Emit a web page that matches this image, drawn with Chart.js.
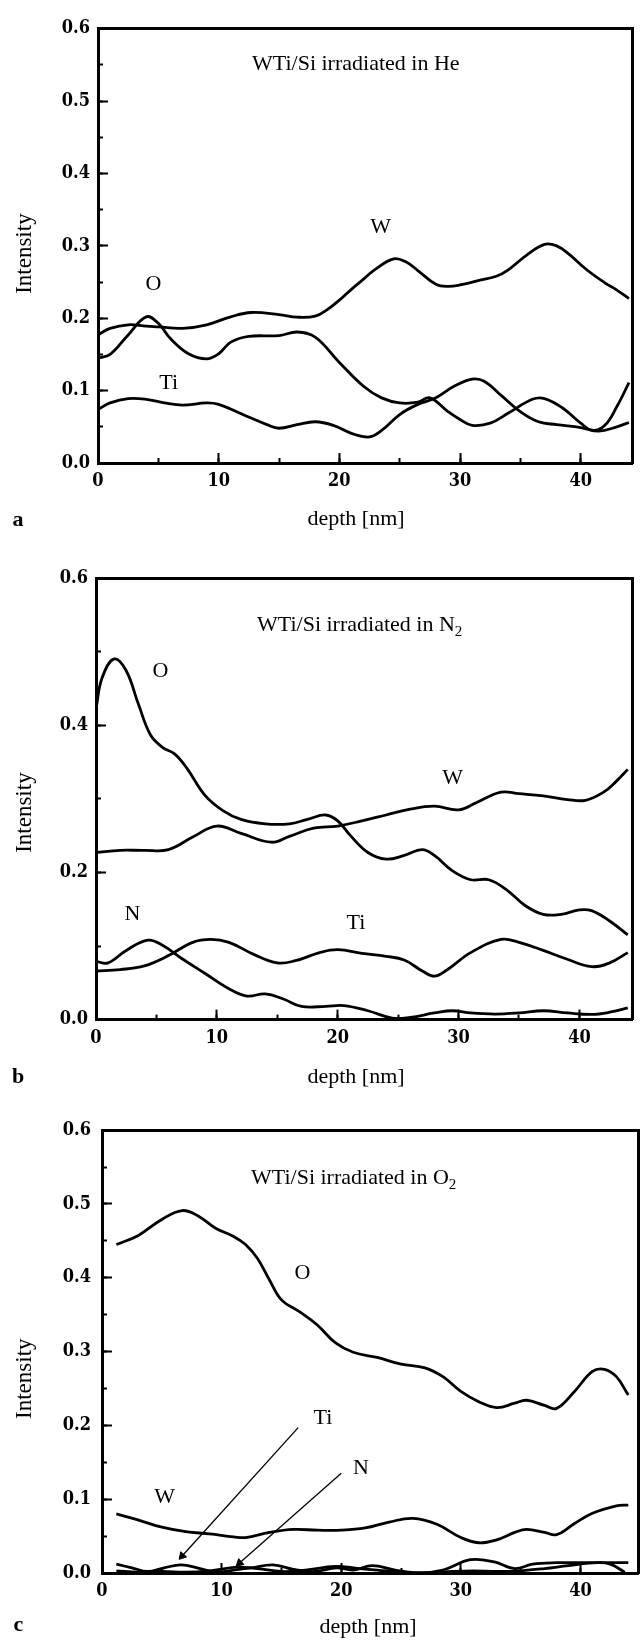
<!DOCTYPE html>
<html><head><meta charset="utf-8">
<script src="https://cdn.jsdelivr.net/npm/chart.js@4.4.1/dist/chart.umd.min.js"></script>
<style>
html,body{margin:0;padding:0;background:#fff;}
body{width:644px;height:1640px;position:relative;overflow:hidden;}
canvas{position:absolute;left:0;top:0;}
</style></head><body>
<canvas id="ca" width="644" height="1640"></canvas>
<canvas id="cb" width="644" height="1640"></canvas>
<canvas id="cc" width="644" height="1640"></canvas>
<script>
// ---------- Panel a : irradiated in He ----------
const aW_x = [0,1,2.5,4,5,7,9,11,12.7,15,16.5,18,19,20,21,22,23,24.5,25.5,26.5,28,29,30,31.5,33,34,35.5,37,38,39,40.5,42,43,44];
const aW_y = [0.177,0.186,0.191,0.189,0.188,0.186,0.191,0.202,0.208,0.205,0.2015,0.203,0.212,0.225,0.240,0.254,0.268,0.282,0.278,0.266,0.247,0.244,0.246,0.252,0.258,0.267,0.287,0.302,0.300,0.289,0.267,0.249,0.239,0.227];
const aO_x = [0,1,2.5,4,5,6,7.5,9,10,11,12.5,15,16.5,18,20,22,23.5,25,26.5,27.5,29,30,31,32.5,34,36,37,38.5,40,41,42,43,44];
const aO_y = [0.145,0.150,0.177,0.202,0.193,0.172,0.151,0.144,0.151,0.167,0.175,0.176,0.181,0.174,0.139,0.106,0.090,0.083,0.084,0.090,0.071,0.060,0.052,0.055,0.069,0.088,0.089,0.076,0.055,0.045,0.052,0.078,0.111];
const aTi_x = [0,1,2.5,4,5.5,7,9,10,12,14,15,16.5,18,19.5,21,22.5,23.5,25,26.5,28,29.5,31,32,33.5,35,36.5,38,40,41.5,43,44];
const aTi_y = [0.074,0.083,0.089,0.088,0.083,0.080,0.083,0.081,0.067,0.053,0.048,0.053,0.057,0.052,0.041,0.036,0.045,0.067,0.081,0.090,0.106,0.116,0.113,0.092,0.071,0.057,0.053,0.049,0.044,0.050,0.056];

// ---------- Panel b : irradiated in N2 ----------
const bO_x = [0,0.5,1.5,2.5,3.5,4.5,5.5,6.5,7.5,9,10.5,12,14,16,17.5,19,20,21,22.5,24,25.5,27,28,29.5,31,32.5,34,35.5,37,38.5,40,41,42.5,44];
const bO_y = [0.422,0.464,0.490,0.474,0.429,0.387,0.370,0.361,0.342,0.305,0.284,0.272,0.266,0.266,0.272,0.278,0.270,0.251,0.227,0.218,0.223,0.231,0.223,0.202,0.190,0.190,0.176,0.155,0.143,0.143,0.149,0.148,0.134,0.115];
const bW_x = [0,2,4,6,8,10,12,14.5,16,18,20,22,24,26,28,30,31.5,33.5,35,37,39,40.5,42,43,44];
const bW_y = [0.227,0.230,0.230,0.231,0.248,0.263,0.253,0.241,0.249,0.260,0.263,0.270,0.278,0.286,0.290,0.285,0.295,0.309,0.307,0.304,0.299,0.298,0.309,0.323,0.340];
const bN_x = [0,1,2.5,4.3,5.5,7,9,11,12.5,14,15.5,17,19,20.5,22.5,24.5,26,28,29.5,31,33,35,37,39,41,42.5,44];
const bN_y = [0.079,0.077,0.094,0.108,0.101,0.084,0.063,0.042,0.032,0.035,0.028,0.018,0.018,0.019,0.012,0.002,0.003,0.009,0.012,0.009,0.0075,0.009,0.012,0.009,0.007,0.010,0.016];
const bTi_x = [0,2,4,6,8,9.5,11,13,15,16.5,18.5,20,22,24,25.5,27,28,29,31,33.5,35,37,39,41,42.5,44];
const bTi_y = [0.066,0.068,0.073,0.087,0.105,0.109,0.105,0.089,0.077,0.080,0.091,0.095,0.090,0.086,0.081,0.066,0.059,0.067,0.091,0.109,0.105,0.094,0.082,0.072,0.077,0.091];

// ---------- Panel c : irradiated in O2 ----------
const cO_x = [1.2,3,5,6.7,8,9.5,11,12,13,14,15,16.5,18,19.5,21,23,25,27,28.5,30,31.5,33,34.5,35.5,37,38,39.5,41,42,43,44];
const cO_y = [0.445,0.457,0.479,0.491,0.484,0.467,0.456,0.445,0.426,0.397,0.370,0.354,0.336,0.312,0.299,0.292,0.283,0.278,0.266,0.246,0.232,0.224,0.230,0.234,0.227,0.223,0.246,0.273,0.276,0.266,0.241];
const cW_x = [1.2,3,5,7,9,11,12,14,16,18,20,22,24,26,28,30,31.5,33,34.5,35.5,37,38,39.5,41,43,44];
const cW_y = [0.080,0.072,0.062,0.056,0.053,0.049,0.048,0.055,0.059,0.058,0.058,0.061,0.069,0.074,0.066,0.048,0.041,0.045,0.055,0.059,0.055,0.052,0.067,0.081,0.091,0.092];
const cTi_x = [1.2,2.5,3.8,5.2,6.6,8.2,9.6,11,12.5,14.3,16,17.8,19.6,21,22.6,24.5,26.5,28.5,30.8,32.8,34.5,36,38,40,42,44];
const cTi_y = [0.012,0.007,0.002,0.007,0.011,0.006,0.001,0.004,0.007,0.011,0.005,0.002,0.007,0.004,0.010,0.004,0.000,0.004,0.018,0.015,0.006,0.012,0.014,0.014,0.014,0.014];
const cN_x = [1.2,3,5,7,9,11.3,13,15,17,19.5,21.5,23,25,27,29,31,33,35,37,39,41.4,42.5,43.7];
const cN_y = [0.003,0.001,0.002,0.001,0.003,0.008,0.006,0.002,0.004,0.009,0.006,0.004,0.001,0.000,0.002,0.003,0.002,0.003,0.006,0.010,0.014,0.012,0.001];
// annotation arrows (depth, intensity) in panel c
const arrowTi_x = [16.4, 6.7];
const arrowTi_y = [0.197, 0.023];
const arrowN_x = [20.0, 11.5];
const arrowN_y = [0.135, 0.0135];

// tick settings
const xMajorStep = 10, xMinorStep = 5;

function pts(xs, ys){ return xs.map((x,i)=>({x:x, y:ys[i]})); }

const W = 644, H = 1640;
const SERIF = '"Liberation Serif", "Times New Roman", serif';
const TICKFONT = {family:'"DejaVu Serif Condensed", "DejaVu Serif", serif', size:18, weight:'bold'};

function textPlugin(items){
  return {
    id:'txt',
    afterDraw(chart){
      const ctx = chart.ctx;
      items.forEach(it=>{
        ctx.save();
        ctx.fillStyle = '#000';
        ctx.font = (it.bold?'bold ':'') + (it.size||22) + 'px ' + SERIF;
        ctx.translate(it.x, it.y);
        if (it.rot) ctx.rotate(it.rot);
        ctx.textAlign = it.align || 'center';
        ctx.textBaseline = it.base || 'middle';
        ctx.fillText(it.t, 0, 0);
        if (it.sub){
          const w = ctx.measureText(it.t).width;
          ctx.font = '15px ' + SERIF;
          ctx.textAlign = 'left';
          ctx.fillText(it.sub, w, 5);
        }
        ctx.restore();
      });
    }
  };
}

function makeScales(o){
  const tickMark = {display:true, drawOnChartArea:false, drawTicks:true, tickColor:'#000', tickWidth:2};
  const bd = {display:true, color:'#000', width:3};
  return {
    x:{type:'linear', axis:'x', position:'bottom', weight:1, min:0, max:o.xmax,
       ticks:{stepSize:xMajorStep, includeBounds:false, color:'#000', font:TICKFONT, padding:18, maxRotation:0, autoSkip:false,
              callback:v=>String(v)},
       grid:Object.assign({tickLength:-10}, tickMark), border:bd,
       afterFit(s){ s.height = H - o.bottom; }},
    xm:{type:'linear', axis:'x', position:'bottom', weight:0, min:0, max:o.xmax,
       ticks:{stepSize:xMinorStep, includeBounds:false, display:false},
       grid:Object.assign({tickLength:-5}, tickMark), border:{display:false},
       afterFit(s){ s.height = 0; }},
    xt:{type:'linear', axis:'x', position:'top', min:0, max:o.xmax,
       ticks:{display:false}, grid:{display:false}, border:bd,
       afterFit(s){ s.height = 0; }},
    y:{type:'linear', axis:'y', position:'left', weight:1, min:0, max:0.6,
       ticks:{stepSize:o.yStep, includeBounds:false, color:'#000', font:TICKFONT, padding:o.ypad, autoSkip:false,
              callback:v=>Number(v).toFixed(1)},
       grid:Object.assign({tickLength:-10}, tickMark), border:bd,
       afterFit(s){ s.width = o.left; }},
    ym:{type:'linear', axis:'y', position:'left', weight:0, min:0, max:0.6,
       ticks:{stepSize:o.yMinor, includeBounds:false, display:false},
       grid:Object.assign({tickLength:-5}, tickMark), border:{display:false},
       afterFit(s){ s.width = 0; }},
    yr:{type:'linear', axis:'y', position:'right', min:0, max:0.6,
       ticks:{display:false}, grid:{display:false}, border:bd,
       afterFit(s){ s.width = 0; }}
  };
}

function curve(xs, ys){
  return {data:pts(xs, ys), xAxisID:'x', yAxisID:'y', borderColor:'#000', borderWidth:2.8,
          pointRadius:0, tension:0.4, fill:false};
}
function arrow(xs, ys, rot){
  return {data:pts(xs, ys), xAxisID:'x', yAxisID:'y', borderColor:'#000', borderWidth:1.3,
          tension:0, fill:false, pointStyle:'triangle', pointRadius:[0,4.5], pointRotation:[0,rot],
          pointBackgroundColor:'#000', pointBorderColor:'#000', pointBorderWidth:1};
}

function makeChart(id, o, datasets, texts){
  return new Chart(document.getElementById(id), {
    type:'line',
    data:{datasets:datasets},
    options:{
      responsive:false, animation:false, devicePixelRatio:1,
      layout:{padding:{left:0, top:o.top, right:W - o.right, bottom:0}},
      plugins:{legend:{display:false}, tooltip:{enabled:false}, title:{display:false}},
      scales:makeScales(o)
    },
    plugins:[textPlugin(texts)]
  });
}

// Panel a
makeChart('ca', {top:21.4, bottom:463, left:98, right:632, xmax:44.25, yStep:0.1, yMinor:0.05, ypad:18},
  [curve(aW_x, aW_y), curve(aO_x, aO_y), curve(aTi_x, aTi_y)],
  [
    {t:'WTi/Si irradiated in He', x:252, y:70, align:'left', base:'alphabetic'},
    {t:'W', x:380.6, y:227.7},
    {t:'O', x:153.5, y:284.7},
    {t:'Ti', x:168.7, y:383},
    {t:'Intensity', x:24.7, y:253.6, rot:-Math.PI/2, size:23},
    {t:'depth [nm]', x:356, y:519},
    {t:'a', x:18, y:520, bold:true}
  ]);

// Panel b
makeChart('cb', {top:578, bottom:1019.6, left:96, right:632, xmax:44.35, yStep:0.2, yMinor:0.1, ypad:18},
  [curve(bO_x, bO_y), curve(bW_x, bW_y), curve(bN_x, bN_y), curve(bTi_x, bTi_y)],
  [
    {t:'WTi/Si irradiated in N', sub:'2', x:257, y:631.4, align:'left', base:'alphabetic'},
    {t:'O', x:160.5, y:671},
    {t:'W', x:452.7, y:778},
    {t:'N', x:132.5, y:914},
    {t:'Ti', x:356, y:923},
    {t:'Intensity', x:24.7, y:812.6, rot:-Math.PI/2, size:23},
    {t:'depth [nm]', x:356, y:1077},
    {t:'b', x:18, y:1077, bold:true}
  ]);

// Panel c
makeChart('cc', {top:1130.1, bottom:1573, left:102, right:643, xmax:44.85, yStep:0.1, yMinor:0.05, ypad:21},
  [curve(cO_x, cO_y), curve(cW_x, cW_y), curve(cTi_x, cTi_y), curve(cN_x, cN_y),
   arrow(arrowTi_x, arrowTi_y, 222), arrow(arrowN_x, arrowN_y, 228)],
  [
    {t:'WTi/Si irradiated in O', sub:'2', x:251, y:1183.7, align:'left', base:'alphabetic'},
    {t:'O', x:302.5, y:1273},
    {t:'Ti', x:323, y:1418},
    {t:'N', x:361, y:1468},
    {t:'W', x:164.6, y:1497},
    {t:'Intensity', x:24.7, y:1378.7, rot:-Math.PI/2, size:23},
    {t:'depth [nm]', x:368, y:1627},
    {t:'c', x:18.5, y:1625, bold:true}
  ]);
</script>
</body></html>
